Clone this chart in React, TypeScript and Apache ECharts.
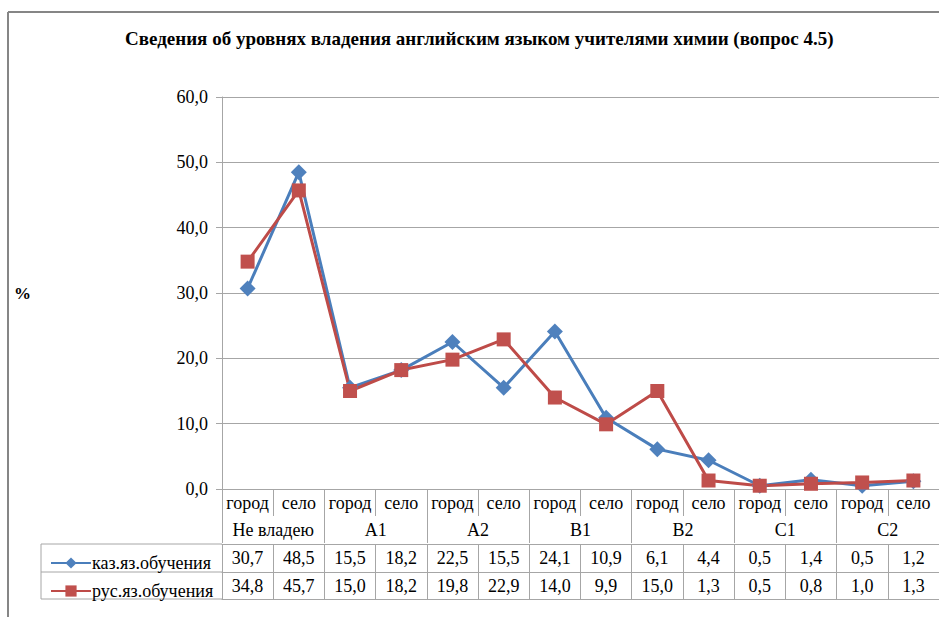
import React, { useEffect, useRef } from "react";
import * as echarts from "echarts";

const categories = ["город", "село", "город", "село", "город", "село", "город", "село", "город", "село", "город", "село", "город", "село"];
const levels = ["Не владею", "A1", "A2", "B1", "B2", "C1", "C2"];
const kazValues = [30.7, 48.5, 15.5, 18.2, 22.5, 15.5, 24.1, 10.9, 6.1, 4.4, 0.5, 1.4, 0.5, 1.2];
const rusValues = [34.8, 45.7, 15.0, 18.2, 19.8, 22.9, 14.0, 9.9, 15.0, 1.3, 0.5, 0.8, 1.0, 1.3];
const seriesNames = ["каз.яз.обучения", "рус.яз.обучения"];
const titleText = "Сведения об уровнях владения английским языком учителями химии (вопрос 4.5)";

const FONT = "Liberation Serif, Times New Roman, serif";
const GRID_COLOR = "#a6a6a6";
const fmt = (v: number) => v.toFixed(1).replace(".", ",");

export default function App() {
  const ref = useRef<HTMLDivElement>(null);
  useEffect(() => {
    if (!ref.current) return;
    const chart = echarts.init(ref.current, undefined, { renderer: "svg" });
    const idx = categories.map((_, i) => String(i));
    const baseLabel = { fontFamily: FONT, fontSize: 18, color: "#000", interval: 0, margin: 5 };
    const tableLine = { lineStyle: { color: GRID_COLOR, width: 1 } };
    chart.setOption({
      animation: false,
      backgroundColor: "#fff",
      textStyle: { fontFamily: FONT },
      title: {
        text: titleText,
        left: 120,
        top: 24,
        textStyle: { fontFamily: FONT, fontSize: 19, fontWeight: "bold", color: "#000" },
      },
      legend: [
        {
          data: [seriesNames[0]],
          left: 45,
          top: 549,
          itemWidth: 40,
          itemHeight: 14,
          itemGap: 2,
          textStyle: { fontFamily: FONT, fontSize: 18, color: "#000", padding: [0, 0, 0, -4] },
        },
        {
          data: [seriesNames[1]],
          left: 45,
          top: 577,
          itemWidth: 40,
          itemHeight: 14,
          itemGap: 2,
          textStyle: { fontFamily: FONT, fontSize: 18, color: "#000", padding: [0, 0, 0, -4] },
        },
      ],
      grid: { left: 222, top: 97, width: 727, height: 392, containLabel: false },
      xAxis: [
        {
          type: "category",
          data: idx,
          boundaryGap: true,
          axisLine: { show: true, ...tableLine },
          axisTick: { show: true, interval: 0, length: 27, ...tableLine },
          axisLabel: { ...baseLabel, formatter: (_: string, i: number) => categories[i] },
          splitLine: { show: false },
        },
        {
          type: "category",
          data: levels,
          position: "bottom",
          offset: 27,
          boundaryGap: true,
          axisLine: { show: false },
          axisTick: { show: true, interval: 0, length: 27, ...tableLine },
          axisLabel: { ...baseLabel },
        },
        {
          type: "category",
          data: idx,
          position: "bottom",
          offset: 55,
          boundaryGap: true,
          axisLine: { show: true, ...tableLine },
          axisTick: { show: true, interval: 0, length: 55, ...tableLine },
          axisLabel: { ...baseLabel, formatter: (_: string, i: number) => fmt(kazValues[i]) },
        },
        {
          type: "category",
          data: idx,
          position: "bottom",
          offset: 83,
          boundaryGap: true,
          axisLine: { show: true, ...tableLine },
          axisTick: { show: false },
          axisLabel: { ...baseLabel, formatter: (_: string, i: number) => fmt(rusValues[i]) },
        },
        {
          type: "category",
          data: idx,
          position: "bottom",
          offset: 110,
          boundaryGap: true,
          axisLine: { show: true, ...tableLine },
          axisTick: { show: false },
          axisLabel: { show: false },
        },
      ],
      yAxis: {
        type: "value",
        min: 0,
        max: 60,
        interval: 10,
        name: "%",
        nameLocation: "middle",
        nameRotate: 0,
        nameGap: 191,
        nameTextStyle: { fontFamily: FONT, fontSize: 17, fontWeight: "bold", color: "#000" },
        axisLine: { show: true, ...tableLine },
        axisTick: { show: true, length: 6, ...tableLine },
        axisLabel: { fontFamily: FONT, fontSize: 18, color: "#000", margin: 14, formatter: (v: number) => fmt(v) },
        splitLine: { show: true, lineStyle: { color: GRID_COLOR, width: 1 } },
      },
      series: [
        {
          name: seriesNames[0],
          type: "line",
          data: kazValues,
          symbol: "diamond",
          symbolSize: 16,
          lineStyle: { color: "#4a7ebb", width: 3 },
          itemStyle: { color: "#4f81bd" },
        },
        {
          name: seriesNames[1],
          type: "line",
          data: rusValues,
          symbol: "rect",
          symbolSize: 14,
          lineStyle: { color: "#be4b48", width: 3 },
          itemStyle: { color: "#c0504d" },
        },
      ],
      graphic: [
        { type: "line", shape: { x1: 8, y1: 12, x2: 8, y2: 617 }, style: { stroke: "#868686", lineWidth: 2 } },
        { type: "line", shape: { x1: 8, y1: 12, x2: 939, y2: 12 }, style: { stroke: "#868686", lineWidth: 2 } },
        { type: "line", shape: { x1: 41, y1: 544, x2: 222, y2: 544 }, style: { stroke: GRID_COLOR, lineWidth: 1 } },
        { type: "line", shape: { x1: 41, y1: 572, x2: 222, y2: 572 }, style: { stroke: GRID_COLOR, lineWidth: 1 } },
        { type: "line", shape: { x1: 41, y1: 599, x2: 222, y2: 599 }, style: { stroke: GRID_COLOR, lineWidth: 1 } },
        { type: "line", shape: { x1: 41, y1: 544, x2: 41, y2: 599 }, style: { stroke: GRID_COLOR, lineWidth: 1 } },
      ],
    });
    return () => chart.dispose();
  }, []);
  return <div ref={ref} style={{ position: "fixed", left: 0, top: 0, width: 939, height: 617 }} />;
}
